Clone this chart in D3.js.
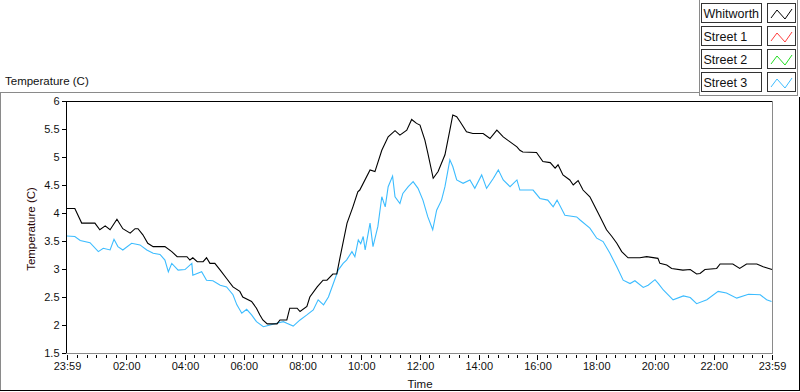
<!DOCTYPE html>
<html>
<head>
<meta charset="utf-8">
<script src="https://cdn.jsdelivr.net/npm/d3@7"></script>
<style>
  body { margin: 0; background: #fff; }
  svg { display: block; font-family: Tahoma, "Liberation Sans", Arial, sans-serif; }
</style>
</head>
<body>
<svg id="chart" width="800" height="392"></svg>
<script>
// series names shown in the legend
const seriesNames = ['Whitworth', 'Street 1', 'Street 2', 'Street 3'];
const seriesColors = ['#000000', '#ff3c3c', '#22dd22', '#3cbcff'];

// minutes after 23:59 and temperature (C)
const whitworthMin = [0, 16, 30, 57, 67, 78, 88, 102, 114, 129, 139, 145, 155, 165, 176, 200, 214, 225, 245, 251, 257, 266, 278, 285, 292, 302, 313, 326, 339, 353, 359, 377, 387, 394, 400, 409, 429, 435, 449, 455, 470, 476, 490, 496, 511, 523, 531, 543, 551, 558, 572, 584, 594, 598, 619, 629, 643, 656, 670, 680, 694, 704, 714, 721, 731, 737, 748, 758, 772, 782, 788, 796, 803, 816, 829, 850, 864, 878, 891, 905, 919, 925, 931, 959, 972, 987, 997, 1003, 1013, 1027, 1034, 1044, 1054, 1068, 1082, 1089, 1102, 1113, 1123, 1133, 1146, 1170, 1184, 1207, 1211, 1225, 1235, 1258, 1273, 1286, 1293, 1303, 1327, 1334, 1360, 1374, 1388, 1409, 1422, 1440];
const whitworthTemp = [4.08, 4.08, 3.82, 3.82, 3.70, 3.77, 3.70, 3.89, 3.72, 3.64, 3.72, 3.72, 3.61, 3.46, 3.40, 3.40, 3.31, 3.22, 3.22, 3.16, 3.20, 3.13, 3.13, 3.20, 3.10, 3.10, 2.98, 2.83, 2.68, 2.60, 2.50, 2.42, 2.30, 2.18, 2.09, 2.02, 2.02, 2.09, 2.09, 2.30, 2.30, 2.24, 2.33, 2.50, 2.68, 2.80, 2.80, 2.91, 2.91, 3.22, 3.82, 4.11, 4.38, 4.41, 4.77, 4.74, 5.12, 5.36, 5.47, 5.39, 5.48, 5.67, 5.60, 5.57, 5.30, 5.07, 4.62, 4.74, 5.04, 5.48, 5.75, 5.72, 5.63, 5.45, 5.42, 5.42, 5.33, 5.48, 5.36, 5.27, 5.18, 5.12, 5.09, 5.08, 4.92, 4.90, 4.80, 4.86, 4.68, 4.59, 4.50, 4.58, 4.41, 4.29, 4.05, 3.93, 3.70, 3.58, 3.46, 3.31, 3.20, 3.20, 3.22, 3.19, 3.10, 3.07, 3.01, 2.98, 2.99, 2.91, 2.92, 2.99, 3.01, 3.09, 3.09, 3.01, 3.09, 3.09, 3.04, 2.99];

const street3Min = [0, 16, 27, 47, 64, 74, 88, 96, 104, 114, 132, 149, 163, 176, 190, 200, 207, 214, 227, 241, 255, 257, 275, 285, 298, 313, 326, 339, 347, 357, 367, 377, 387, 401, 415, 428, 442, 449, 462, 476, 490, 503, 513, 524, 534, 544, 554, 564, 571, 582, 588, 595, 600, 605, 609, 619, 625, 635, 643, 650, 656, 665, 670, 680, 686, 697, 707, 717, 727, 737, 747, 755, 765, 772, 782, 788, 796, 809, 823, 833, 847, 857, 871, 881, 891, 905, 919, 925, 952, 966, 982, 993, 1001, 1017, 1041, 1048, 1068, 1082, 1095, 1109, 1123, 1136, 1150, 1160, 1177, 1187, 1201, 1208, 1218, 1238, 1259, 1273, 1286, 1307, 1330, 1347, 1368, 1392, 1416, 1429, 1439];
const street3Temp = [3.59, 3.58, 3.51, 3.47, 3.31, 3.37, 3.34, 3.53, 3.40, 3.34, 3.46, 3.43, 3.34, 3.28, 3.26, 3.16, 2.95, 3.10, 2.98, 2.99, 3.10, 2.89, 2.95, 2.80, 2.79, 2.71, 2.68, 2.54, 2.36, 2.21, 2.28, 2.18, 2.06, 1.97, 2.00, 2.03, 2.06, 2.03, 1.98, 2.09, 2.18, 2.27, 2.45, 2.36, 2.50, 2.74, 2.98, 3.10, 3.16, 3.31, 3.22, 3.52, 3.45, 3.58, 3.34, 3.82, 3.40, 3.76, 4.29, 4.11, 4.47, 4.66, 4.29, 4.17, 4.35, 4.47, 4.56, 4.44, 4.23, 3.93, 3.70, 4.05, 4.23, 4.47, 4.95, 4.83, 4.59, 4.53, 4.59, 4.44, 4.68, 4.44, 4.62, 4.77, 4.59, 4.47, 4.59, 4.41, 4.41, 4.26, 4.23, 4.11, 4.23, 3.96, 3.93, 3.875, 3.73, 3.55, 3.49, 3.28, 3.04, 2.80, 2.74, 2.79, 2.67, 2.71, 2.81, 2.74, 2.625, 2.45, 2.52, 2.49, 2.38, 2.45, 2.60, 2.57, 2.48, 2.55, 2.54, 2.45, 2.42];

// axis ticks
const yTicks = [1.5, 2, 2.5, 3, 3.5, 4, 4.5, 5, 5.5, 6];
const xTickMin = [0, 121, 241, 361, 481, 601, 721, 841, 961, 1081, 1201, 1321, 1440];
const xTickLabels = ['23:59', '02:00', '04:00', '06:00', '08:00', '10:00', '12:00', '14:00', '16:00', '18:00', '20:00', '22:00', '23:59'];

const start = new Date(2000, 0, 1, 23, 59);
const toDate = m => new Date(start.getTime() + m * 60000);

const svg = d3.select('#chart');
const plot = { left: 67, right: 772, top: 101, bottom: 353 };

const x = d3.scaleTime()
  .domain([toDate(0), toDate(1440)])
  .range([plot.left, plot.right]);
const y = d3.scaleLinear()
  .domain([1.5, 6])
  .range([plot.bottom, plot.top]);

// outer panel frame
const frame = svg.append('g').attr('shape-rendering', 'crispEdges');
frame.append('line').attr('x1', 0).attr('x2', 699).attr('y1', 92.5).attr('y2', 92.5).attr('stroke', '#8a8a8a');
frame.append('line').attr('x1', 0.5).attr('x2', 0.5).attr('y1', 92).attr('y2', 391).attr('stroke', '#8a8a8a');
frame.append('line').attr('x1', 0).attr('x2', 800).attr('y1', 390.5).attr('y2', 390.5).attr('stroke', '#000');
frame.append('line').attr('x1', 799.5).attr('x2', 799.5).attr('y1', 97).attr('y2', 391).attr('stroke', '#000');
// legend panel
frame.append('line').attr('x1', 699.5).attr('x2', 699.5).attr('y1', 0).attr('y2', 96).attr('stroke', '#8a8a8a');
frame.append('line').attr('x1', 699).attr('x2', 798).attr('y1', 95.5).attr('y2', 95.5).attr('stroke', '#8a8a8a');
frame.append('line').attr('x1', 797.5).attr('x2', 797.5).attr('y1', 0).attr('y2', 96).attr('stroke', '#8a8a8a');

// titles
svg.append('text')
  .attr('x', 5).attr('y', 85)
  .style('font-size', '11.5px')
  .attr('fill', '#111')
  .text('Temperature (C)');

svg.append('text')
  .attr('transform', 'translate(35,229) rotate(-90)')
  .attr('text-anchor', 'middle')
  .style('font-size', '11.5px')
  .attr('fill', '#2a0808')
  .text('Temperature (C)');

svg.append('text')
  .attr('x', 420).attr('y', 388)
  .attr('text-anchor', 'middle')
  .style('font-size', '11.5px')
  .attr('fill', '#111')
  .text('Time');

// y axis
const yAxis = d3.axisLeft(y).tickValues(yTicks).tickSize(5).tickPadding(2).tickFormat(d => d);
const gy = svg.append('g')
  .attr('transform', `translate(${plot.left - 0.5},0)`)
  .call(yAxis);
gy.select('.domain').remove();
gy.selectAll('line').attr('stroke', '#000').attr('shape-rendering', 'crispEdges');
gy.selectAll('text').style('font-size', '11px').attr('fill', '#111').attr('font-family', null);

// x axis minor ticks (20 min)
const minorMin = d3.range(20, 1440, 20).filter(m => !xTickMin.includes(m + 1));
const gxm = svg.append('g')
  .attr('transform', `translate(0,${plot.bottom + 1.5})`)
  .call(d3.axisBottom(x).tickValues(minorMin.map(toDate)).tickSize(3).tickFormat(''));
gxm.select('.domain').remove();
gxm.selectAll('line').attr('stroke', '#000').attr('shape-rendering', 'crispEdges');

// x axis major ticks
const gx = svg.append('g')
  .attr('transform', `translate(0,${plot.bottom + 1.5})`)
  .call(d3.axisBottom(x).tickValues(xTickMin.map(toDate)).tickSize(5).tickPadding(3)
    .tickFormat((d, i) => xTickLabels[i]));
gx.select('.domain').remove();
gx.selectAll('line').attr('stroke', '#000').attr('shape-rendering', 'crispEdges');
gx.selectAll('text').style('font-size', '11px').attr('fill', '#111').attr('font-family', null);

// plot frame: sunken look
const pf = svg.append('g').attr('shape-rendering', 'crispEdges');
pf.append('line').attr('x1', plot.left - 1).attr('x2', plot.right + 1).attr('y1', plot.top + 0.5).attr('y2', plot.top + 0.5).attr('stroke', '#000');
pf.append('line').attr('x1', plot.left - 0.5).attr('x2', plot.left - 0.5).attr('y1', plot.top).attr('y2', plot.bottom + 1).attr('stroke', '#000');
pf.append('line').attr('x1', plot.left - 1).attr('x2', plot.right + 1).attr('y1', plot.bottom + 0.5).attr('y2', plot.bottom + 0.5).attr('stroke', '#8a8a8a');
pf.append('line').attr('x1', plot.right + 0.5).attr('x2', plot.right + 0.5).attr('y1', plot.top).attr('y2', plot.bottom + 1).attr('stroke', '#8a8a8a');

// lines
const line = d3.line()
  .x(d => x(toDate(d.m)))
  .y(d => y(d.v));

const series = [
  { min: street3Min, temp: street3Temp, color: seriesColors[3] },
  { min: whitworthMin, temp: whitworthTemp, color: seriesColors[0] }
];
series.forEach(s => {
  svg.append('path')
    .datum(s.min.map((m, i) => ({ m, v: s.temp[i] })))
    .attr('d', line)
    .attr('fill', 'none')
    .attr('stroke', s.color)
    .attr('stroke-width', 1.1);
});

// legend
const legend = svg.selectAll('.legend')
  .data(seriesNames)
  .enter().append('g')
  .attr('class', 'legend')
  .attr('transform', (d, i) => `translate(0, ${3 + i * 23})`);

legend.append('rect')
  .attr('x', 701.5).attr('y', 0.5)
  .attr('width', 60).attr('height', 19)
  .attr('fill', '#fff')
  .attr('stroke', '#333')
  .attr('shape-rendering', 'crispEdges');

legend.append('text')
  .attr('x', 703.5).attr('y', 14.5)
  .style('font-size', '12.5px')
  .attr('fill', '#111')
  .text(d => d);

legend.append('rect')
  .attr('x', 767.5).attr('y', 0.5)
  .attr('width', 28).attr('height', 19)
  .attr('fill', '#fff')
  .attr('stroke', '#333')
  .attr('shape-rendering', 'crispEdges');

legend.append('path')
  .attr('d', 'M771,15 L777,7 L785,16 L792,6')
  .attr('fill', 'none')
  .attr('stroke', (d, i) => seriesColors[i])
  .attr('stroke-width', 1);
</script>
</body>
</html>
